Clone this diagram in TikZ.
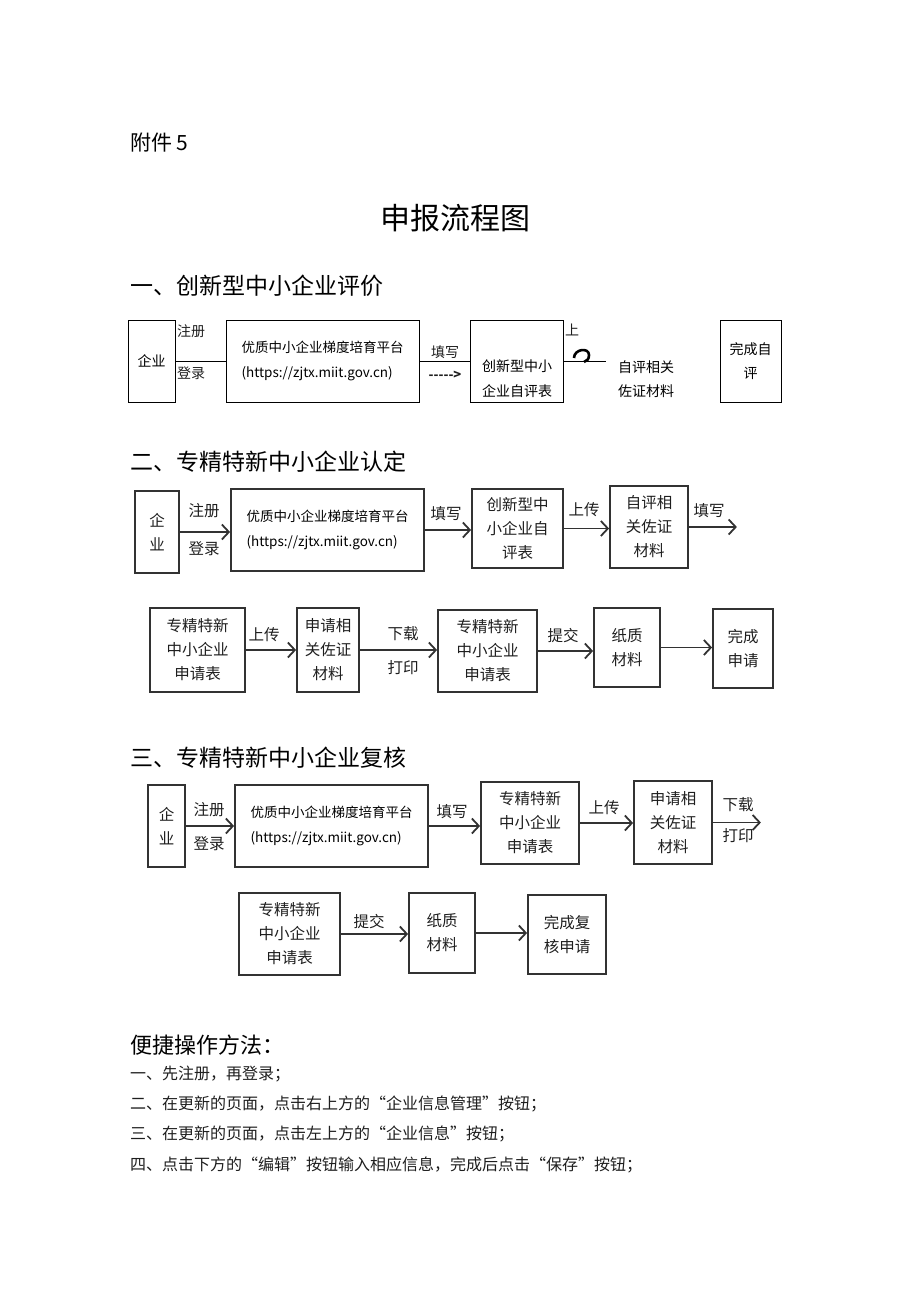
\documentclass[tikz,border=0pt]{standalone}
\usepackage{fontspec}
\setmainfont{Noto Sans CJK SC}
\usetikzlibrary{arrows.meta,positioning}
\definecolor{ink}{RGB}{50,50,50}
\definecolor{txt}{RGB}{30,30,30}
\newcommand{\fsz}[2]{\fontsize{#1}{#2}\selectfont}
\newcommand{\oq}{\makebox[1em][r]{“}}
\newcommand{\cq}{\makebox[1em][l]{”}}
\tikzset{
  bx/.style={draw=ink,line width=1.8pt,inner sep=0pt,align=center,text=txt,font=\fsz{15.5}{24}},
  tbx/.style={draw=black,line width=0.7pt,inner sep=0pt,align=center,font=\fsz{14}{24}},
  pfl/.style={align=left,font=\fsz{13.5}{25}},
  lab/.style={inner sep=0pt,text=txt,font=\fsz{15.5}{20}},
  arr/.style={draw=ink,line width=1.8pt,-{Straight Barb[length=7pt,width=15pt,line width=1.8pt]}},
  thn/.style={draw=black,line width=0.7pt},
  head/.style={anchor=west,inner sep=0pt,font=\fsz{23}{28}},
  body/.style={anchor=west,inner sep=0pt,text=txt,font=\fsz{16}{20}}
}
\begin{document}
\begin{tikzpicture}[x=1pt,y=-1pt]
\useasboundingbox (0,0) rectangle (920,1301);
\node[anchor=west,inner sep=0pt,font=\fsz{21}{24}] (fj) at (130,143) {附件 5};
\node[inner sep=0pt,font=\fsz{30}{34}] (ttl) at (455,218) {申报流程图};

\node[head] (h1) at (130,286) {一、创新型中小企业评价};
\node[tbx,minimum width=47,minimum height=82] (qy1) at (151.5,361) {企业};
\node[tbx,minimum width=193,minimum height=82] (pf1) at (322.5,361) {};
\node[pfl] (pf1t) at (pf1.center) {优质中小企业梯度培育平台\\(https://zjtx.miit.gov.cn)};
\node[tbx,minimum width=93,minimum height=82] (cs1) at (516.5,361) {};
\node[align=center,font=\fsz{14}{25}] (cs1t) at (517,379) {创新型中小\\企业自评表};
\node[align=center,font=\fsz{14}{24}] (zp1) at (646,379) {自评相关\\佐证材料};
\node[tbx,minimum width=61,minimum height=82] (wc1) at (750.5,361) {完成自\\评};
\coordinate (e1) at (606,361);
\draw[thn] (qy1.east) -- (pf1.west);
\draw[thn] (pf1.east) -- (cs1.west);
\draw[thn] (cs1.east) -- (e1);
\node[lab,font=\fsz{14}{18}] (zc1) at (191,331) {注册};
\node[lab,font=\fsz{14}{18}] (dl1) at (191,373) {登录};
\node[lab,font=\fsz{14}{18}] (tx1) at (445,352) {填写};
\node[lab,font=\bfseries\fsz{13}{18}] (da1) at (445,375) {-{}-{}-{}-{}->};
\node[lab,font=\fsz{14}{18}] (sc1) at (572,330) {上};
\draw[line width=2.6pt] (574,358) .. controls (574,349) and (589,347) .. (589,355) .. controls (589,359) and (587,361) .. (584,362);

\node[head] (h2) at (130,462) {二、专精特新中小企业认定};
\node[bx,minimum width=44,minimum height=82] (qy2) at (157,532) {企\\业};
\node[bx,minimum width=193,minimum height=82] (pf2) at (327.5,530) {};
\node[pfl] (pf2t) at (pf2.center) {优质中小企业梯度培育平台\\(https://zjtx.miit.gov.cn)};
\node[bx,minimum width=91,minimum height=79] (cs2) at (517.5,528.5) {创新型中\\小企业自\\评表};
\node[bx,minimum width=78,minimum height=82] (zp2) at (649,527) {自评相\\关佐证\\材料};
\draw[arr] (qy2.east) -- (qy2.east -| pf2.west);
\draw[arr] (pf2.east) -- (pf2.east -| cs2.west);
\draw[arr] (cs2.east) -- (cs2.east -| zp2.west);
\draw[arr] (zp2.east) -- ++(48,0);
\node[lab] (zc2) at (204,511) {注册};
\node[lab] (dl2) at (204,549) {登录};
\node[lab] (tx2) at (446,514) {填写};
\node[lab] (sc2) at (584,510) {上传};
\node[lab] (tx2b) at (709,511) {填写};

\node[bx,minimum width=95,minimum height=84] (sq2a) at (197.5,650) {专精特新\\中小企业\\申请表};
\node[bx,minimum width=62,minimum height=84] (xg2) at (328,650) {申请相\\关佐证\\材料};
\node[bx,minimum width=99,minimum height=82] (sq2b) at (487.5,651) {专精特新\\中小企业\\申请表};
\node[bx,minimum width=66,minimum height=79] (zz2) at (627,647.5) {纸质\\材料};
\node[bx,minimum width=60,minimum height=79] (wc2) at (743,648.5) {完成\\申请};
\draw[arr] (sq2a.east) -- (sq2a.east -| xg2.west);
\draw[arr] (xg2.east) -- (xg2.east -| sq2b.west);
\draw[arr] (sq2b.east) -- (sq2b.east -| zz2.west);
\draw[arr] (zz2.east) -- (zz2.east -| wc2.west);
\node[lab] (sc2b) at (264,635) {上传};
\node[lab] (xz2) at (403,634) {下载};
\node[lab] (dy2) at (403,668) {打印};
\node[lab] (tj2) at (563,636) {提交};

\node[head] (h3) at (130,758) {三、专精特新中小企业复核};
\node[bx,minimum width=37,minimum height=82] (qy3) at (166.5,826) {企\\业};
\node[bx,minimum width=193,minimum height=82] (pf3) at (331.5,826) {};
\node[pfl] (pf3t) at (pf3.center) {优质中小企业梯度培育平台\\(https://zjtx.miit.gov.cn)};
\node[bx,minimum width=98,minimum height=82] (sq3) at (530,823) {专精特新\\中小企业\\申请表};
\node[bx,minimum width=78,minimum height=83] (xg3) at (673,822.5) {申请相\\关佐证\\材料};
\draw[arr] (qy3.east) -- (qy3.east -| pf3.west);
\draw[arr] (pf3.east) -- (pf3.east -| sq3.west);
\draw[arr] (sq3.east) -- (sq3.east -| xg3.west);
\draw[arr] (xg3.east) -- ++(48,0);
\node[lab] (zc3) at (209,810) {注册};
\node[lab] (dl3) at (209,844) {登录};
\node[lab] (tx3) at (452,812) {填写};
\node[lab] (sc3) at (604,808) {上传};
\node[lab] (xz3) at (738,805) {下载};
\node[lab] (dy3) at (738,836) {打印};

\node[bx,minimum width=101,minimum height=82] (sq3b) at (289.5,934) {专精特新\\中小企业\\申请表};
\node[bx,minimum width=66,minimum height=80] (zz3) at (442,933) {纸质\\材料};
\node[bx,minimum width=78,minimum height=79] (wc3) at (567,934.5) {完成复\\核申请};
\draw[arr] (sq3b.east) -- (sq3b.east -| zz3.west);
\draw[arr] (zz3.east) -- (zz3.east -| wc3.west);
\node[lab] (tj3) at (369,922) {提交};

\node[head,font=\fsz{22}{26}] (bj) at (130,1045) {便捷操作方法：};
\node[body] (b1) at (130,1074) {一、先注册，再登录；};
\node[body] (b2) at (130,1104) {二、在更新的页面，点击右上方的\oq 企业信息管理\cq 按钮；};
\node[body] (b3) at (130,1134) {三、在更新的页面，点击左上方的\oq 企业信息\cq 按钮；};
\node[body] (b4) at (130,1165) {四、点击下方的\oq 编辑\cq 按钮输入相应信息，完成后点击\oq 保存\cq 按钮；};
\end{tikzpicture}
\end{document}
